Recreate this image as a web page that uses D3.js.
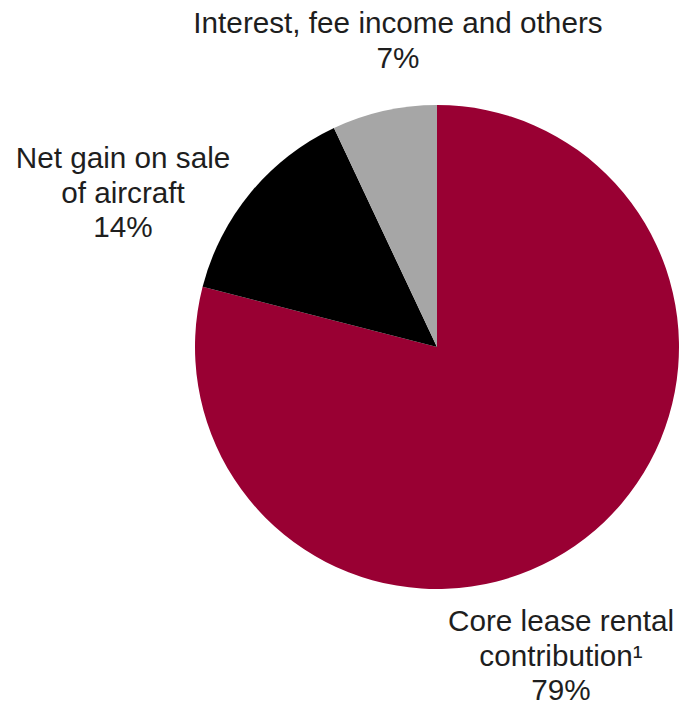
<!DOCTYPE html>
<html>
<head>
<meta charset="utf-8">
<script src="https://cdn.jsdelivr.net/npm/d3@7/dist/d3.min.js"></script>
<style>
  html, body { margin: 0; padding: 0; background: #ffffff; }
  svg { display: block; }
  text { font-family: "Liberation Sans", Arial, sans-serif; fill: #1e1e1e; }
</style>
</head>
<body>
<svg id="chart" width="679" height="705"></svg>
<script>
// Revenue mix by source
const categories = ["Core lease rental contribution", "Net gain on sale of aircraft", "Interest, fee income and others"];
const shares = [79, 14, 7];
const colors = ["#990033", "#000000", "#a6a6a6"];

// Label text lines and anchor points (layout)
const labelLines = [
  ["Core lease rental", "contribution¹", "79%"],
  ["Net gain on sale", "of aircraft", "14%"],
  ["Interest, fee income and others", "7%"]
];
const labelPos = [
  { x: 561, y: 631 },
  { x: 123, y: 168 },
  { x: 398, y: 33 }
];

const svg = d3.select("#chart");
const cx = 437, cy = 347, radius = 242;

const pie = d3.pie().sort(null).value(d => d.value);
const arc = d3.arc().innerRadius(0).outerRadius(radius);

const data = categories.map((c, i) => ({ name: c, value: shares[i], color: colors[i] }));

const g = svg.append("g").attr("transform", `translate(${cx},${cy})`);
g.selectAll("path")
  .data(pie(data))
  .join("path")
  .attr("d", arc)
  .attr("fill", d => d.data.color);

const lineH = 34.5;
labelLines.forEach((lines, i) => {
  const t = svg.append("text")
    .attr("text-anchor", "middle")
    .attr("font-size", 29.7);
  lines.forEach((ln, j) => {
    t.append("tspan")
      .attr("x", labelPos[i].x)
      .attr("y", labelPos[i].y + j * lineH)
      .text(ln);
  });
});
</script>
</body>
</html>
